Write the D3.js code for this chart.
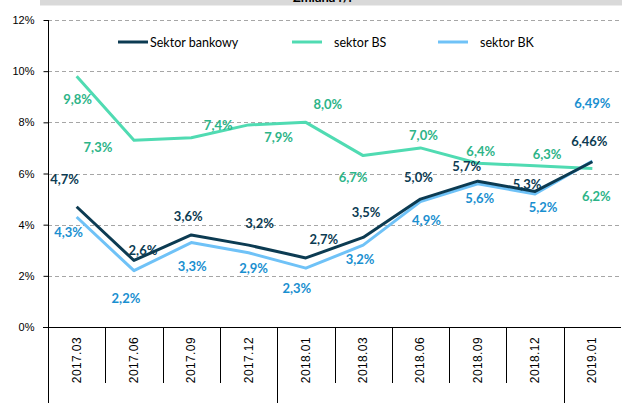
<!DOCTYPE html>
<meta charset="utf-8">
<style>
    body { margin: 0; background: #fff; }
    svg { display: block; font-family: "Liberation Sans", Arial, sans-serif; }
    .grid line { stroke: #a6a6a6; stroke-dasharray: 4,3; }
    .axis text { font-size: 11px; fill: #000; }
    .axis text.cat { font-size: 12px; letter-spacing: 0.4px; }
    .lbl { font-family: Lato, "Open Sans", sans-serif; font-weight: bold; font-size: 13px; text-anchor: middle; }
    .legend text { font-family: Lato, "Open Sans", sans-serif; font-size: 12.5px; fill: #000; }
</style>
<svg width="622" height="403"></svg>
<script src="https://cdn.jsdelivr.net/npm/d3@7"></script>
<script>

    var categories = ["2017.03", "2017.06", "2017.09", "2017.12", "2018.01",
        "2018.03", "2018.06", "2018.09", "2018.12", "2019.01"];

    var bankowy = [4.7, 2.6, 3.6, 3.2, 2.7, 3.5, 5.0, 5.7, 5.3, 6.46];
    var sektorBS = [9.8, 7.3, 7.4, 7.9, 8.0, 6.7, 7.0, 6.4, 6.3, 6.2];
    var sektorBK = [4.3, 2.2, 3.3, 2.9, 2.3, 3.2, 4.9, 5.6, 5.2, 6.49];

    var yTicks = [0, 2, 4, 6, 8, 10, 12];
    var seriesNames = ["Sektor bankowy", "sektor BS", "sektor BK"];

    // label offsets (px) from each point, as placed in the original
    var offBankowy = [[-12, -27], [9, -10], [-3, -18], [11, -22], [18, -18], [3, -25], [-2, -22], [-11, -15], [-8, -7], [-3, -20]];
    var offBS = [[1, 23], [-36, 7], [27, -12], [30, 13], [22, -18], [-10, 22], [3, -12], [3, -12], [12, -11], [4, 28]];
    var offBK = [[-8, 16], [-8, 28], [1, 24], [5, 16], [-9, 20], [-3, 14], [6, 19], [2, 15], [8, 14], [0, -57]];

    var svg = d3.select("svg");

    var x = d3.scaleBand()
        .domain(categories)
        .range([48, 621]);

    var y = d3.scaleLinear()
        .domain([0, 12])
        .range([327, 20]);

    // header band (mostly cut off)
    svg.append("rect")
        .attr("x", 40).attr("y", 0)
        .attr("width", 582).attr("height", 5.5)
        .attr("fill", "#d9d9d9");
    svg.append("text")
        .attr("x", 293).attr("y", 2)
        .attr("font-family", "Lato, sans-serif")
        .attr("font-weight", "bold")
        .attr("font-size", "13px")
        .text("Zmiana r/r");

    // gridlines
    svg.append("g")
        .attr("class", "grid")
        .selectAll("line")
        .data(yTicks.filter(function (d) { return d > 0; }))
        .enter().append("line")
        .attr("x1", 48).attr("x2", 622)
        .attr("y1", function (d) { return Math.round(y(d)) + 0.5; })
        .attr("y2", function (d) { return Math.round(y(d)) + 0.5; });

    // y axis
    var yAxis = svg.append("g")
        .attr("class", "axis")
        .attr("transform", "translate(48.5,0)")
        .call(d3.axisLeft(y)
            .tickValues(yTicks)
            .tickSize(5)
            .tickPadding(9)
            .tickFormat(function (d) { return d + "%"; }));
    yAxis.select(".domain").remove();
    yAxis.selectAll(".tick line").attr("stroke", "#000");
    yAxis.append("line")
        .attr("x1", 0).attr("x2", 0)
        .attr("y1", y(12)).attr("y2", 403)
        .attr("stroke", "#000");

    // x axis line
    svg.append("line")
        .attr("x1", 43).attr("x2", 621)
        .attr("y1", 327.5).attr("y2", 327.5)
        .attr("stroke", "#000");

    // category dividers (long ones separate years)
    var yearStart = ["2018.01", "2019.01"];
    svg.append("g")
        .selectAll("line")
        .data(categories.slice(1))
        .enter().append("line")
        .attr("x1", function (d) { return Math.round(x(d)) + 0.5; })
        .attr("x2", function (d) { return Math.round(x(d)) + 0.5; })
        .attr("y1", 327)
        .attr("y2", function (d) { return yearStart.indexOf(d) >= 0 ? 403 : 383; })
        .attr("stroke", "#000");

    // category labels
    svg.append("g")
        .attr("class", "axis")
        .selectAll("text")
        .data(categories)
        .enter().append("text")
        .attr("class", "cat")
        .attr("transform", function (d) {
            return "translate(" + (x(d) + x.bandwidth() / 2 + 4) + ",337) rotate(-90)";
        })
        .attr("text-anchor", "end")
        .text(function (d) { return d; });

    var line = d3.line()
        .x(function (d, i) { return x(categories[i]) + x.bandwidth() / 2; })
        .y(function (d) { return y(d); });

    var series = [
        { values: sektorBS, color: "#50dbb2", label: "#2db488", off: offBS },
        { values: sektorBK, color: "#6fc2f7", label: "#1a8fd0", off: offBK },
        { values: bankowy, color: "#0c3b52", label: "#0c3b52", off: offBankowy }
    ];

    series.forEach(function (s) {
        svg.append("path")
            .datum(s.values)
            .attr("fill", "none")
            .attr("stroke", s.color)
            .attr("stroke-width", 3)
            .attr("stroke-linejoin", "round")
            .attr("d", line);
    });

    var fmt = function (v) {
        var str = Math.round(v * 100) % 10 !== 0 ? v.toFixed(2) : v.toFixed(1);
        return str.replace(".", ",") + "%";
    };

    series.forEach(function (s) {
        svg.append("g")
            .selectAll("text")
            .data(s.values)
            .enter().append("text")
            .attr("class", "lbl")
            .attr("fill", s.label)
            .attr("x", function (d, i) { return x(categories[i]) + x.bandwidth() / 2 + s.off[i][0]; })
            .attr("y", function (d, i) { return y(d) + s.off[i][1] + 4.5; })
            .text(fmt);
    });

    // legend
    var legendPos = [118, 292, 438];
    var legendText = [150, 334, 480];
    var legendColors = ["#0c3b52", "#50dbb2", "#6fc2f7"];
    var legend = svg.append("g").attr("class", "legend");
    seriesNames.forEach(function (name, i) {
        legend.append("line")
            .attr("x1", legendPos[i]).attr("x2", legendPos[i] + 30)
            .attr("y1", 42).attr("y2", 42)
            .attr("stroke", legendColors[i])
            .attr("stroke-width", 3);
        legend.append("text")
            .attr("x", legendText[i]).attr("y", 46.5)
            .text(name);
    });

</script>
